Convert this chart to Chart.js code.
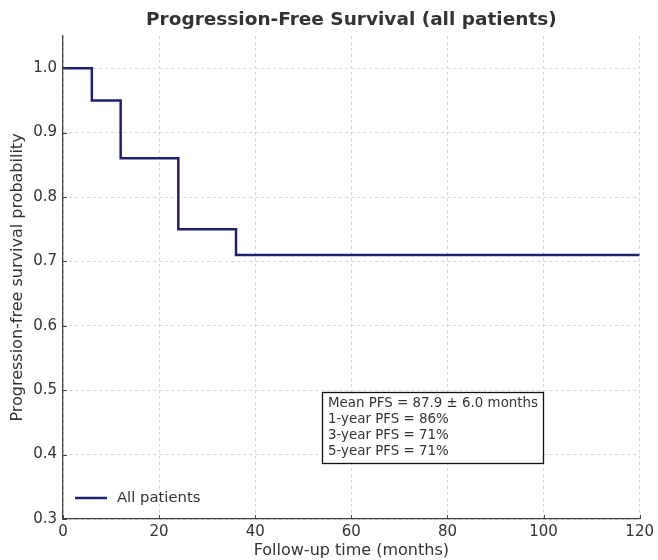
<!DOCTYPE html>
<html>
<head>
<meta charset="utf-8">
<script src="https://cdn.jsdelivr.net/npm/chart.js@4"></script>
<style>
  html, body { margin: 0; padding: 0; background: #fff; }
  #wrap { width: 658px; height: 560px; position: relative; }
</style>
</head>
<body>
<div id="wrap"><canvas id="pfsChart"></canvas></div>
<script>
// Kaplan-Meier estimate
const months = [0, 6, 12, 24, 36, 120];
const pfs = [1.0, 0.95, 0.86, 0.75, 0.71, 0.71];
const xTicks = [0, 20, 40, 60, 80, 100, 120];
const yTicks = [0.3, 0.4, 0.5, 0.6, 0.7, 0.8, 0.9, 1.0];
const statsLines = [
  'Mean PFS = 87.9 ± 6.0 months',
  '1-year PFS = 86%',
  '3-year PFS = 71%',
  '5-year PFS = 71%'
];

const FONT = "'DejaVu Sans', sans-serif";
const LINE_COLOR = '#1f2170';
const TEXT = '#333333';
const AXIS = '#444444';

const overlay = {
  id: 'overlay',
  afterDraw(chart) {
    const ctx = chart.ctx;
    const area = chart.chartArea;
    const xs = chart.scales.x, ys = chart.scales.y;
    ctx.save();

    // inward tick marks
    ctx.strokeStyle = AXIS;
    ctx.lineWidth = 1;
    xTicks.forEach(v => {
      const px = Math.round(xs.getPixelForValue(v)) + 0.5;
      ctx.beginPath();
      ctx.moveTo(px, area.bottom);
      ctx.lineTo(px, area.bottom - 4);
      ctx.stroke();
    });
    yTicks.forEach(v => {
      const py = Math.round(ys.getPixelForValue(v)) + 0.5;
      ctx.beginPath();
      ctx.moveTo(area.left, py);
      ctx.lineTo(area.left + 4, py);
      ctx.stroke();
    });

    // title
    ctx.fillStyle = TEXT;
    ctx.font = 'bold 18.5px ' + FONT;
    ctx.textAlign = 'center';
    ctx.textBaseline = 'middle';
    ctx.fillText('Progression-Free Survival (all patients)', (area.left + area.right) / 2, 20);

    // legend
    ctx.strokeStyle = LINE_COLOR;
    ctx.lineWidth = 2.5;
    ctx.beginPath();
    ctx.moveTo(75, 498);
    ctx.lineTo(107, 498);
    ctx.stroke();
    ctx.fillStyle = TEXT;
    ctx.font = '14.8px ' + FONT;
    ctx.textAlign = 'left';
    ctx.fillText('All patients', 117, 498);

    // stats box
    const bx = 322.5, by = 392.5, bw = 221, bh = 71;
    ctx.fillStyle = '#fff';
    ctx.fillRect(bx, by, bw, bh);
    ctx.strokeStyle = '#111';
    ctx.lineWidth = 1.3;
    ctx.strokeRect(bx, by, bw, bh);
    ctx.fillStyle = TEXT;
    ctx.font = '13.4px ' + FONT;
    statsLines.forEach((t, i) => {
      ctx.fillText(t, 328, 404 + i * 15.8);
    });

    ctx.restore();
  }
};

const ctx = document.getElementById('pfsChart').getContext('2d');
new Chart(ctx, {
  type: 'line',
  data: {
    datasets: [{
      label: 'All patients',
      data: months.map((m, i) => ({ x: m, y: pfs[i] })),
      borderColor: LINE_COLOR,
      borderWidth: 2.5,
      pointRadius: 0,
      fill: false,
      stepped: 'before'
    }]
  },
  options: {
    responsive: true,
    maintainAspectRatio: false,
    animation: false,
    layout: { padding: { top: 36, right: 17, left: 0, bottom: 0 } },
    plugins: {
      legend: { display: false },
      title: { display: false },
      tooltip: { enabled: false }
    },
    scales: {
      x: {
        type: 'linear',
        min: 0,
        max: 120,
        afterBuildTicks: axis => { axis.ticks = xTicks.map(v => ({ value: v })); },
        afterFit: axis => { axis.height = 41; },
        grid: { color: '#cccccc', drawTicks: false, lineWidth: 0.8 },
        border: { display: true, color: AXIS, width: 1.3, dash: [3, 3] },
        ticks: { color: TEXT, font: { family: FONT, size: 15 }, padding: 4, maxRotation: 0 },
        title: { display: true, text: 'Follow-up time (months)', color: TEXT, font: { family: FONT, size: 16 }, padding: { top: 0, bottom: 0 } }
      },
      y: {
        min: 0.3,
        max: 1.05,
        afterBuildTicks: axis => { axis.ticks = yTicks.map(v => ({ value: v })); },
        afterFit: axis => { axis.width = 63; },
        grid: { color: '#cccccc', drawTicks: false, lineWidth: 0.8 },
        border: { display: true, color: AXIS, width: 1.3, dash: [3, 3] },
        ticks: { color: TEXT, font: { family: FONT, size: 15 }, padding: 6, callback: v => v.toFixed(1) },
        title: { display: true, text: 'Progression-free survival probability', color: TEXT, font: { family: FONT, size: 16 }, padding: { top: 8, bottom: 0 } }
      }
    }
  },
  plugins: [overlay]
});
</script>
</body>
</html>
